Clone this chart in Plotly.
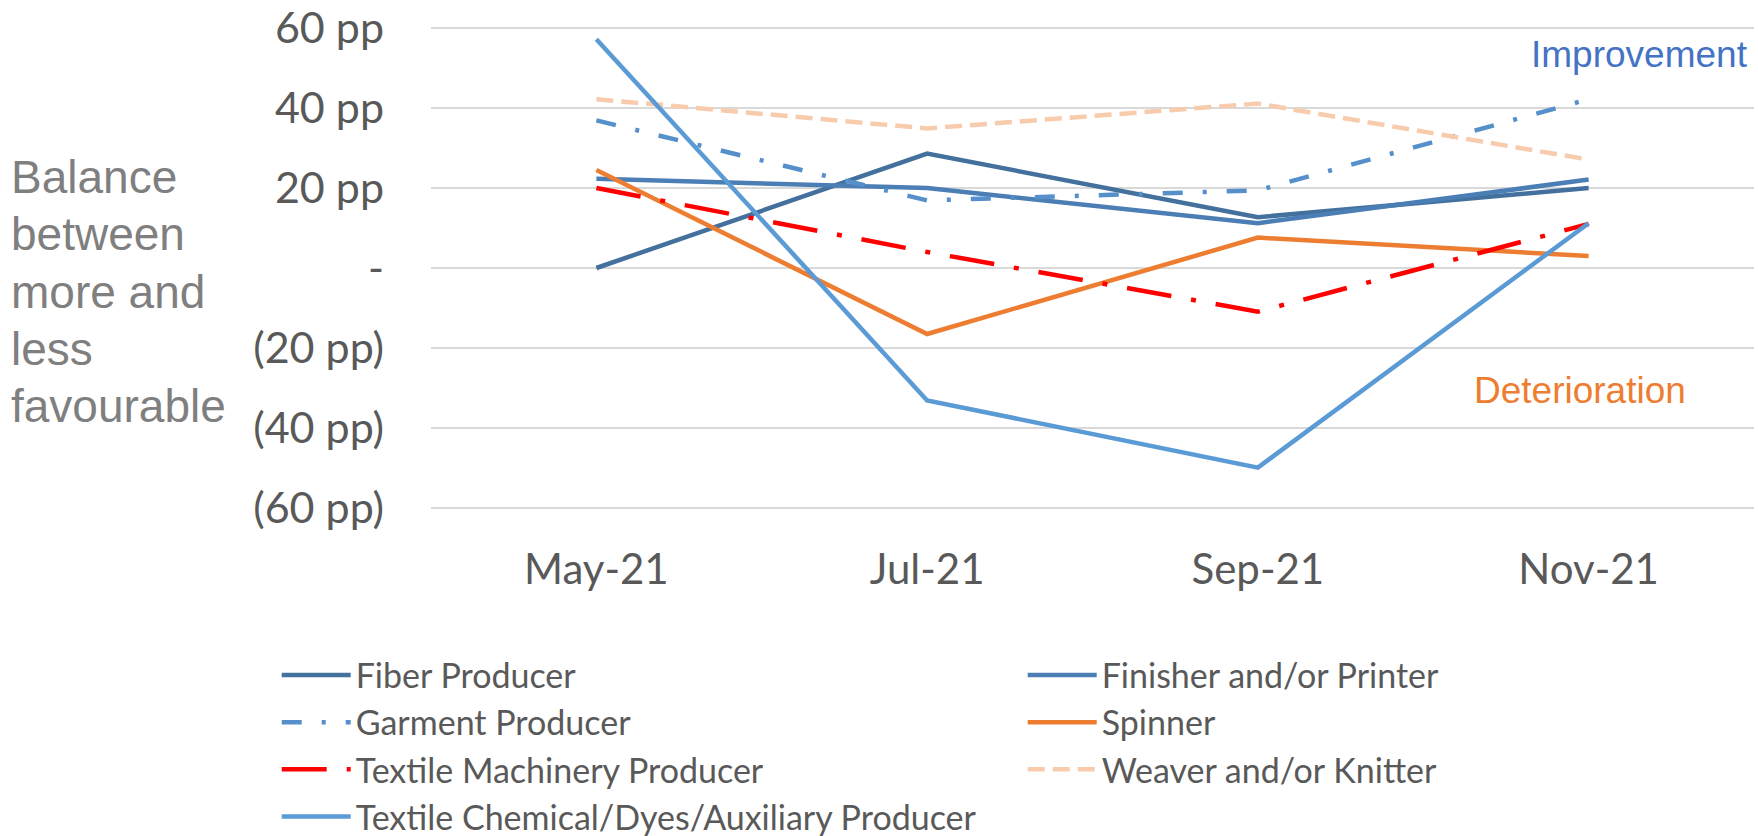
import plotly.graph_objects as go

months = ["May-21", "Jul-21", "Sep-21", "Nov-21"]

fiber = [0.0, 28.6, 12.7, 20.0]
finisher = [22.3, 20.0, 11.2, 22.1]
garment = [36.9, 16.9, 19.4, 42.2]
spinner = [24.5, -16.5, 7.6, 3.0]
machinery = [20.0, 4.0, -10.9, 11.0]
weaver = [42.2, 34.9, 41.1, 27.1]
chemical = [57.2, -33.1, -49.9, 11.2]

series_names = [
    "Fiber Producer",
    "Finisher and/or Printer",
    "Garment Producer",
    "Spinner",
    "Textile Machinery Producer",
    "Weaver and/or Knitter",
    "Textile Chemical/Dyes/Auxiliary Producer",
]
series_values = [fiber, finisher, garment, spinner, machinery, weaver, chemical]
series_colors = ["#43709C", "#4A7EB4", "#5590CA", "#ED7D31", "#FF0000", "#F8CBAD", "#5B9BD5"]
series_dash = ["solid", "solid", "20px,20px,4px,20px", "solid", "45px,20px,5px,20px", "17px,8px", "solid"]

tick_vals = [60, 40, 20, 0, -20, -40, -60]
tick_text = ["60 pp", "40 pp", "20 pp", "-", "(20 pp)", "(40 pp)", "(60 pp)"]

title_lines = ["Balance", "between", "more and", "less", "favourable"]

fig = go.Figure()
for name, vals, col, dash in zip(series_names, series_values, series_colors, series_dash):
    fig.add_trace(go.Scatter(
        x=months, y=vals, mode="lines", name=name,
        line=dict(color=col, width=4.5, dash=dash),
    ))

W, H = 1758, 836
L, R, T, B = 431, 4, 25.5, 326
pw = W - L - R
ph = H - T - B

def px_x(p):
    return (p - L) / pw

def px_y(p):
    return (H - B - p) / ph

annotations = []
title_mid = [176.7, 234.0, 291.3, 348.6, 406.0]
for line, ym in zip(title_lines, title_mid):
    annotations.append(dict(
        text=line, xref="paper", yref="paper",
        x=px_x(9.0), xanchor="left",
        y=px_y(ym), yanchor="middle",
        showarrow=False,
        font=dict(family="Liberation Sans, Arial", size=46, color="#7F7F7F"),
    ))
annotations.append(dict(
    text="Improvement", xref="paper", yref="paper",
    x=px_x(1639), xanchor="center",
    y=px_y(54.4), yanchor="middle",
    showarrow=False,
    font=dict(family="Liberation Sans, Arial", size=37, color="#4472C4"),
))
annotations.append(dict(
    text="Deterioration", xref="paper", yref="paper",
    x=px_x(1580), xanchor="center",
    y=px_y(390), yanchor="middle",
    showarrow=False,
    font=dict(family="Liberation Sans, Arial", size=37, color="#ED7D31"),
))

fig.update_layout(
    width=W, height=H,
    margin=dict(l=L, r=R, t=T, b=B, autoexpand=False),
    paper_bgcolor="white", plot_bgcolor="white",
    showlegend=True,
    legend=dict(
        orientation="h",
        x=px_x(276.7), xanchor="left",
        y=px_y(646.5), yanchor="top",
        entrywidth=662, entrywidthmode="pixels",
        itemwidth=69,
        font=dict(family="Lato", size=34, color="#595959"),
        bgcolor="rgba(0,0,0,0)",
        traceorder="normal",
    ),
    xaxis=dict(
        type="category",
        range=[-0.5, 3.5],
        showgrid=False, showline=False, zeroline=False,
        ticks="",
        tickfont=dict(family="Lato", size=42, color="#595959"),
        ticklabelstandoff=31,
    ),
    yaxis=dict(
        range=[-60.5, 60.5],
        tickvals=tick_vals, ticktext=tick_text,
        showgrid=True, gridcolor="#D9D9D9", gridwidth=2,
        zeroline=False, showline=False,
        ticks="",
        tickfont=dict(family="Lato", size=43, color="#595959"),
        ticklabelstandoff=46,
        ticklabeloverflow="allow",
    ),
    annotations=annotations,
)

fig.write_html(
    "out.html",
    config={"displayModeBar": False},
    post_script="document.body.style.margin='0px';",
)
